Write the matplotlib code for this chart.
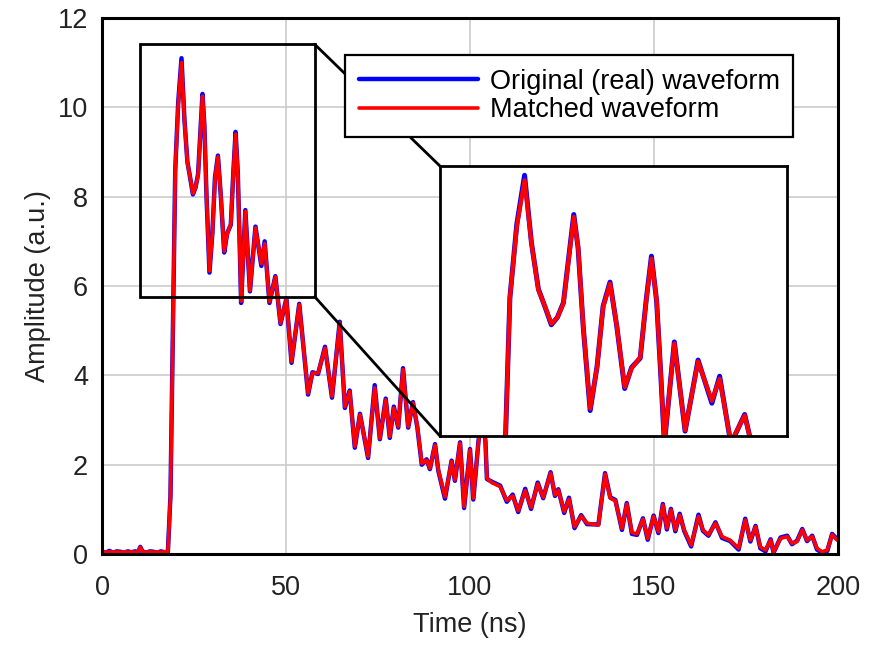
import matplotlib
matplotlib.use("Agg")
import matplotlib.pyplot as plt
from matplotlib.patches import Rectangle, ConnectionPatch

plt.rcParams["font.family"] = ["Liberation Sans", "DejaVu Sans"]
plt.rcParams["font.size"] = 19.5

# waveform (time in ns, amplitude in a.u.)
time_ns = [
    0.0, 1.0, 2.0, 3.0, 4.0, 5.0, 6.0, 7.0, 8.0, 9.0, 9.8, 10.4, 11.0, 12.0,
    13.0, 14.0, 15.0, 16.0, 17.0, 17.9, 18.6, 19.3, 19.9, 20.7, 21.6, 22.4,
    23.2, 24.0, 24.7, 25.4, 26.1, 26.7, 27.3, 27.8, 28.4, 29.2, 30.0, 30.7,
    31.5, 32.3, 33.2, 34.0, 35.0, 35.7, 36.3, 36.9, 37.4, 37.8, 38.95, 40.2,
    41.7, 43.3, 44.2, 45.5, 47.1, 48.5, 50.1, 51.5, 53.6, 56.0, 57.2, 58.7,
    60.6, 62.5, 64.6, 66.0, 67.3, 68.7, 70.1, 72.3, 74.1, 75.5, 77.1, 78.2,
    79.3, 80.5, 81.8, 83.2, 84.5, 85.7, 86.9, 88.2, 89.1, 90.5, 91.4, 93.2,
    95.0, 95.9, 97.3, 98.4, 100.0, 100.9, 102.3, 103.3, 104.2, 104.6, 105.9,
    108.2, 110.0, 111.6, 113.1, 115.0, 116.6, 118.4, 119.9, 121.9, 123.1,
    124.0, 125.6, 126.9, 128.4, 130.2, 131.8, 134.9, 136.7, 138.1, 139.5,
    141.3, 142.6, 144.0, 145.4, 147.0, 148.3, 149.9, 151.2, 152.4, 153.5,
    154.6, 155.8, 157.0, 158.2, 160.1, 162.1, 163.3, 164.8, 166.7, 168.5,
    170.7, 173.0, 174.8, 176.2, 177.6, 178.9, 180.3, 181.7, 182.5, 184.4,
    186.2, 187.5, 188.9, 190.3, 191.6, 193.0, 194.3, 195.7, 197.1, 198.4,
    199.8, 200.0,
]

matched = [
    0.05, 0.04, 0.05, 0.04, 0.05, 0.04, 0.05, 0.04, 0.05, 0.04, 0.05, 0.15, 0.05, 0.04,
    0.05, 0.04, 0.05, 0.04, 0.05, 0.05, 1.3, 5.2, 8.6, 10.05, 11.0, 9.71,
    8.76, 8.41, 8.07, 8.2, 8.48, 9.37, 10.25, 9.64, 8.01, 6.34, 7.19, 8.41,
    8.89, 8.01, 6.78, 7.16, 7.39, 8.55, 9.4, 8.55, 6.99, 5.66, 7.67, 5.9,
    7.3, 6.5, 6.95, 5.65, 6.2, 5.17, 5.7, 4.31, 5.58, 3.6, 4.05, 4.05,
    4.61, 3.53, 5.17, 3.3, 3.64, 2.41, 3.12, 2.18, 3.72, 2.59, 3.45, 2.63,
    3.27, 2.85, 4.13, 2.85, 3.38, 2.85, 2.03, 2.1, 1.92, 2.44, 1.88, 1.28,
    2.07, 1.66, 2.48, 1.06, 2.33, 1.25, 2.5, 3.2, 2.5, 1.7, 1.6,
    1.51, 1.2, 1.3, 0.97, 1.42, 1.04, 1.57, 1.27, 1.81, 1.32,
    1.43, 0.95, 1.23, 0.61, 0.85, 0.69, 0.65, 1.79, 1.25, 1.19,
    0.57, 1.12, 0.48, 0.45, 0.78, 0.35, 0.84, 0.5, 1.1, 0.58,
    0.99, 0.54, 0.87, 0.54, 0.2, 0.84, 0.54, 0.43, 0.69, 0.39,
    0.31, 0.13, 0.76, 0.31, 0.61, 0.16, 0.09, 0.31, 0.05, 0.35,
    0.39, 0.24, 0.28, 0.54, 0.31, 0.39, 0.13, 0.05, 0.09, 0.43,
    0.31, 0.32,
]

original = [
    0.06, 0.03, 0.07, 0.03, 0.06, 0.05, 0.03, 0.06, 0.04, 0.06, 0.04, 0.16, 0.06, 0.03,
    0.06, 0.05, 0.03, 0.06, 0.04, 0.05, 1.3, 5.2, 8.6, 10.1, 11.1, 9.72,
    8.78, 8.4, 8.05, 8.2, 8.5, 9.4, 10.3, 9.62, 8.0, 6.3, 7.2, 8.43,
    8.92, 8.0, 6.75, 7.18, 7.37, 8.57, 9.45, 8.53, 6.97, 5.62, 7.7, 5.88,
    7.33, 6.45, 7.0, 5.62, 6.22, 5.15, 5.72, 4.28, 5.6, 3.57, 4.07, 4.03,
    4.64, 3.5, 5.2, 3.27, 3.66, 2.38, 3.14, 2.15, 3.78, 2.57, 3.48, 2.6,
    3.3, 2.83, 4.16, 2.83, 3.4, 2.83, 2.0, 2.12, 1.9, 2.46, 1.86, 1.24,
    2.09, 1.64, 2.5, 1.03, 2.35, 1.22, 2.52, 3.22, 2.52, 1.68, 1.62,
    1.53, 1.17, 1.33, 0.94, 1.46, 1.01, 1.6, 1.25, 1.83, 1.3,
    1.45, 0.92, 1.26, 0.58, 0.87, 0.67, 0.66, 1.81, 1.27, 1.21,
    0.54, 1.14, 0.45, 0.43, 0.8, 0.32, 0.86, 0.47, 1.12, 0.55,
    1.01, 0.51, 0.9, 0.52, 0.17, 0.88, 0.52, 0.41, 0.71, 0.36,
    0.29, 0.1, 0.79, 0.28, 0.63, 0.13, 0.06, 0.33, 0.03, 0.37,
    0.41, 0.22, 0.3, 0.56, 0.29, 0.41, 0.1, 0.03, 0.07, 0.45,
    0.33, 0.34,
]

# zoomed region
zoom_box_x = [10.2, 57.8]
zoom_box_y = [5.76, 11.41]
inset_xlim = [11.8, 52.0]
inset_ylim = [5.78, 11.29]

fig = plt.figure(figsize=(8.69, 6.47), dpi=100)
ax = fig.add_axes([0.1174, 0.1437, 0.8469, 0.8285])

ax.plot(time_ns, original, color="#0000ff", lw=3.2, label="Original (real) waveform",
        solid_joinstyle="round", solid_capstyle="round", zorder=2)
ax.plot(time_ns, matched, color="#ff0000", lw=2.6, label="Matched waveform",
        solid_joinstyle="round", solid_capstyle="round", zorder=2.1)

ax.set_xlim(0, 200)
ax.set_ylim(0, 12)
ax.set_xticks([0, 50, 100, 150, 200])
ax.set_yticks([0, 2, 4, 6, 8, 10, 12])
ax.grid(True, color="#cccccc", lw=1.2)
ax.set_axisbelow(True)
ax.tick_params(axis="both", length=0, colors="#222222")
ax.tick_params(axis="x", pad=15)
ax.tick_params(axis="y", pad=10)
for sp in ax.spines.values():
    sp.set_linewidth(2.2)
    sp.set_color("black")

ax.set_xlabel("Time (ns)", color="#222222", labelpad=8)
ax.set_ylabel("Amplitude (a.u.)", color="#222222", labelpad=5)

# rectangle marking the zoomed part
rect = Rectangle((zoom_box_x[0], zoom_box_y[0]), zoom_box_x[1] - zoom_box_x[0],
                 zoom_box_y[1] - zoom_box_y[0], fill=False, ec="black", lw=2.0, zorder=3)
ax.add_patch(rect)

leg = ax.legend(loc="upper left", bbox_to_anchor=(345 / 869, 1 - 55 / 647),
                bbox_transform=fig.transFigure, borderaxespad=0, fancybox=False,
                framealpha=1, edgecolor="black", handlelength=4.4, handletextpad=0.45,
                labelspacing=0.1, borderpad=0.5, fontsize=19.5)
leg.get_frame().set_linewidth(1.6)
leg.set_zorder(5)

# inset
axin = fig.add_axes([0.5063, 0.3261, 0.3993, 0.4173])
axin.plot(time_ns, original, color="#0000ff", lw=3.6, solid_joinstyle="round")
axin.plot(time_ns, matched, color="#ff0000", lw=3.0, solid_joinstyle="round")
axin.set_xlim(inset_xlim)
axin.set_ylim(inset_ylim)
axin.set_xticks([])
axin.set_yticks([])
for sp in axin.spines.values():
    sp.set_linewidth(2.0)
    sp.set_color("black")

# connector lines
for ya, yb in [(zoom_box_y[1], 1), (zoom_box_y[0], 0)]:
    con = ConnectionPatch(xyA=(zoom_box_x[1], ya), coordsA=ax.transData,
                          xyB=(0, yb), coordsB=axin.transAxes,
                          color="black", lw=2.0, zorder=4)
    ax.add_artist(con)

plt.savefig("out.png", dpi=100)
